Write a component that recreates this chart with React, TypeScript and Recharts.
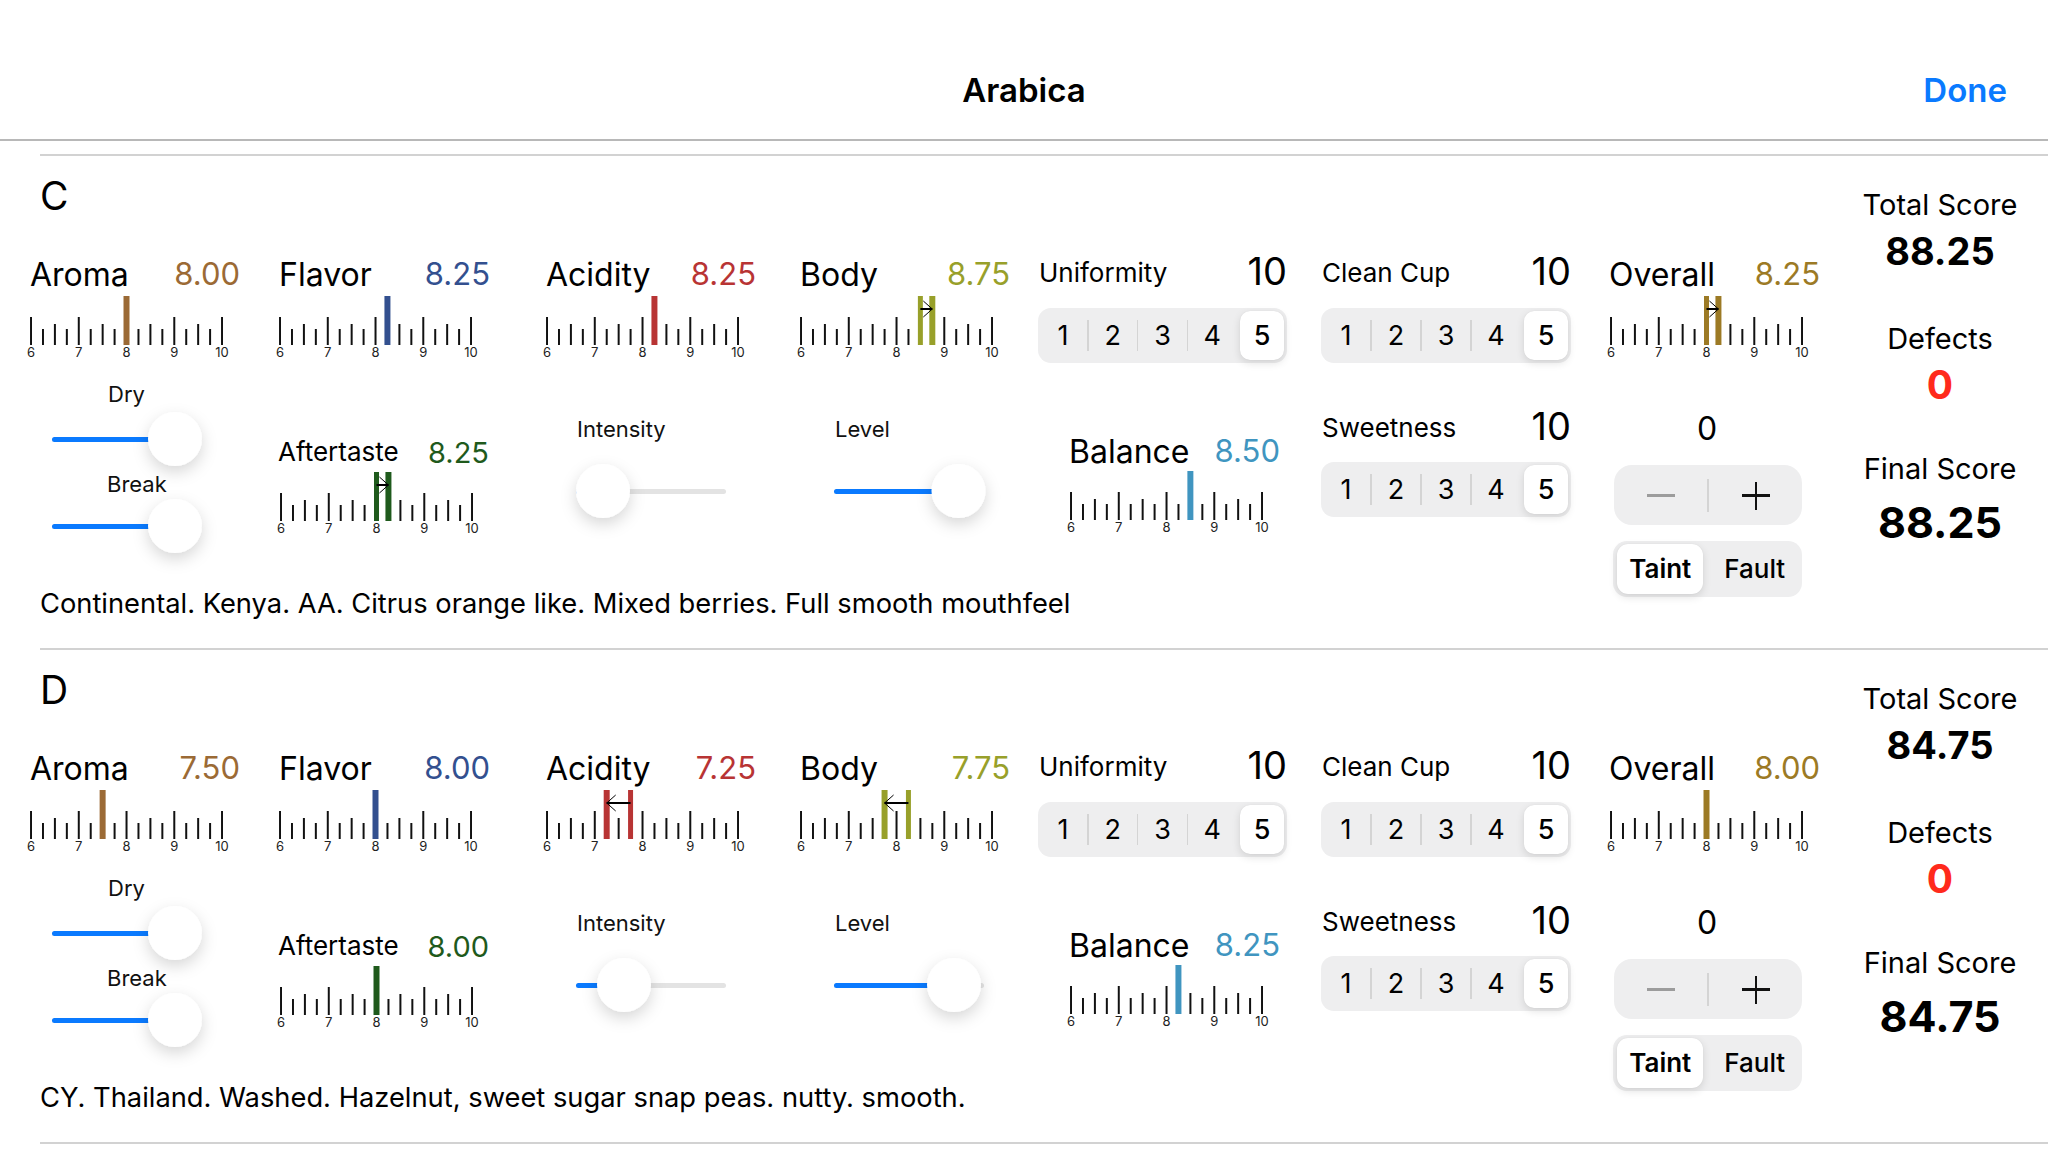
import React from "react";
import {
  ComposedChart,
  Bar,
  XAxis,
  YAxis,
  ReferenceLine,
  ReferenceDot,
} from "recharts";

// ---- data ----
const SAMPLES = ["C", "D"];

const AROMA = [8.0, 7.5];
const AROMA_PREV: (number | null)[] = [null, null];
const FLAVOR = [8.25, 8.0];
const FLAVOR_PREV: (number | null)[] = [null, null];
const ACIDITY = [8.25, 7.25];
const ACIDITY_PREV: (number | null)[] = [null, 7.75];
const BODY = [8.75, 7.75];
const BODY_PREV: (number | null)[] = [8.5, 8.25];
const AFTERTASTE = [8.25, 8.0];
const AFTERTASTE_PREV: (number | null)[] = [8.0, null];
const BALANCE = [8.5, 8.25];
const BALANCE_PREV: (number | null)[] = [null, null];
const OVERALL = [8.25, 8.0];
const OVERALL_PREV: (number | null)[] = [8.0, null];

const UNIFORMITY = [10, 10];
const UNIFORMITY_CUPS = [5, 5];
const CLEAN_CUP = [10, 10];
const CLEAN_CUP_CUPS = [5, 5];
const SWEETNESS = [10, 10];
const SWEETNESS_CUPS = [5, 5];
const CUP_LABELS = ["1", "2", "3", "4", "5"];

const DEFECT_CUPS = [0, 0];
const DEFECT_TYPES = ["Taint", "Fault"];
const DEFECT_TYPE_SELECTED = [0, 0];

// slider positions along the track (0 = left end, 1 = right end)
const DRY = [0.82, 0.82];
const BREAK = [0.82, 0.82];
const INTENSITY = [0.18, 0.32];
const LEVEL = [0.83, 0.8];

const TOTAL_SCORE = [88.25, 84.75];
const DEFECTS = [0, 0];
const FINAL_SCORE = [88.25, 84.75];

const NOTES = [
  "Continental. Kenya. AA. Citrus orange like. Mixed berries. Full smooth mouthfeel",
  "CY. Thailand. Washed. Hazelnut, sweet sugar snap peas. nutty. smooth.",
];

const RULER_TICKS = [
  6, 6.25, 6.5, 6.75, 7, 7.25, 7.5, 7.75, 8, 8.25, 8.5, 8.75, 9, 9.25, 9.5,
  9.75, 10,
];
const RULER_LABELS = [6, 7, 8, 9, 10];

// ---- styling ----
const W = 2048;
const H = 1156;
const FONT = "Inter, 'Noto Sans', 'DejaVu Sans', sans-serif";
const SECTION_GAP = 494;
const BLUE = "#0a7aff";
const RULER_W = 191;
const RULER_PAD = 14;
const MARK_H = 49;
const ARROW_Y = 36;

const tickHeight = (t: number) =>
  Number.isInteger(t) ? 28 : Number.isInteger(t * 2) ? 21 : 16;

const SCALES = [
  { name: "Aroma", values: AROMA, prev: AROMA_PREV, color: "#9b6a35", x: 30, labelY: 274, size: 32, valueRight: 240, valueSize: 31, rulerX: 31, baseline: 345 },
  { name: "Flavor", values: FLAVOR, prev: FLAVOR_PREV, color: "#33508f", x: 279, labelY: 274, size: 32, valueRight: 490, valueSize: 31, rulerX: 280, baseline: 345 },
  { name: "Acidity", values: ACIDITY, prev: ACIDITY_PREV, color: "#b83434", x: 546, labelY: 274, size: 32, valueRight: 756, valueSize: 31, rulerX: 547, baseline: 345 },
  { name: "Body", values: BODY, prev: BODY_PREV, color: "#98a02a", x: 800, labelY: 274, size: 32, valueRight: 1010, valueSize: 31, rulerX: 801, baseline: 345 },
  { name: "Overall", values: OVERALL, prev: OVERALL_PREV, color: "#9c7a25", x: 1609, labelY: 274, size: 32, valueRight: 1820, valueSize: 31, rulerX: 1611, baseline: 345 },
  { name: "Aftertaste", values: AFTERTASTE, prev: AFTERTASTE_PREV, color: "#1f5a1c", x: 278, labelY: 452, size: 26, valueRight: 489, valueSize: 29, rulerX: 281, baseline: 521 },
  { name: "Balance", values: BALANCE, prev: BALANCE_PREV, color: "#4095c0", x: 1069, labelY: 451, size: 32, valueRight: 1280, valueSize: 31, rulerX: 1071, baseline: 520 },
];

const CUP_SCALES = [
  { name: "Uniformity", values: UNIFORMITY, cups: UNIFORMITY_CUPS, x: 1039, right: 1287, labelY: 273, boxTop: 308 },
  { name: "Clean Cup", values: CLEAN_CUP, cups: CLEAN_CUP_CUPS, x: 1322, right: 1571, labelY: 273, boxTop: 308 },
  { name: "Sweetness", values: SWEETNESS, cups: SWEETNESS_CUPS, x: 1322, right: 1571, labelY: 428, boxTop: 462 },
];

const SLIDERS = [
  { name: "Dry", values: DRY, labelX: 108, labelY: 394, trackX: 52, trackY: 439 },
  { name: "Break", values: BREAK, labelX: 107, labelY: 484, trackX: 52, trackY: 526 },
  { name: "Intensity", values: INTENSITY, labelX: 577, labelY: 429, trackX: 576, trackY: 491 },
  { name: "Level", values: LEVEL, labelX: 835, labelY: 429, trackX: 834, trackY: 491 },
];

function Txt({
  x,
  y,
  size,
  weight = 400,
  color = "#000",
  align = "left",
  children,
}: {
  x: number;
  y: number;
  size: number;
  weight?: number;
  color?: string;
  align?: "left" | "right" | "center";
  children: React.ReactNode;
}) {
  const lh = Math.round(size * 1.22);
  const style: React.CSSProperties = {
    position: "absolute",
    top: y - lh / 2,
    fontSize: size,
    lineHeight: `${lh}px`,
    fontWeight: weight,
    color,
    whiteSpace: "nowrap",
    fontFamily: FONT,
  };
  if (align === "left") style.left = x;
  else if (align === "right") style.right = W - x;
  else {
    style.left = x - 300;
    style.width = 600;
    style.textAlign = "center";
  }
  return <div style={style}>{children}</div>;
}

function Ruler({
  id,
  left,
  baseline,
  value,
  prev,
  color,
}: {
  id: string;
  left: number;
  baseline: number;
  value: number;
  prev: number | null;
  color: string;
}) {
  const data = RULER_TICKS.map((t) => ({ x: t, h: tickHeight(t) }));
  return (
    <div style={{ position: "absolute", left: left - RULER_PAD, top: baseline - MARK_H }}>
      <ComposedChart
        width={RULER_W + RULER_PAD * 2}
        height={MARK_H + 20}
        data={data}
        margin={{ top: 0, right: RULER_PAD, bottom: 0, left: RULER_PAD }}
      >
        <defs>
          <marker
            id={`arrow-${id}`}
            markerWidth={11}
            markerHeight={18}
            refX={10}
            refY={9}
            orient="auto"
            markerUnits="userSpaceOnUse"
          >
            <path d="M1,1 L10,9 L1,17" fill="none" stroke="#000" strokeWidth={1} />
          </marker>
        </defs>
        <XAxis
          type="number"
          dataKey="x"
          domain={[6, 10]}
          ticks={RULER_LABELS}
          interval={0}
          axisLine={false}
          tickLine={false}
          tickSize={0}
          tickMargin={3}
          height={20}
          tick={{ fontSize: 13, fill: "#222", fontFamily: FONT }}
        />
        <YAxis hide domain={[0, MARK_H]} />
        <Bar dataKey="h" fill="#111" barSize={2} isAnimationActive={false} />
        {prev !== null && (
          <ReferenceLine x={prev} stroke={color} strokeWidth={5} />
        )}
        <ReferenceLine x={value} stroke={color} strokeWidth={6} />
        {prev !== null && (
          <ReferenceLine
            segment={[
              { x: prev, y: ARROW_Y },
              { x: value, y: ARROW_Y },
            ]}
            shape={(p: any) => (
              <line
                x1={p.x1}
                y1={p.y1}
                x2={p.x2}
                y2={p.y2}
                stroke="#000"
                strokeWidth={2}
                markerEnd={`url(#arrow-${id})`}
              />
            )}
          />
        )}
      </ComposedChart>
    </div>
  );
}

function Slider({ id, left, trackY, value }: { id: string; left: number; trackY: number; value: number }) {
  const TW = 150;
  const KP = 34;
  const CH = 120;
  const data = [{ name: "s", v: value }];
  return (
    <div style={{ position: "absolute", left: left - KP, top: trackY - CH / 2 }}>
      <ComposedChart
        layout="vertical"
        width={TW + KP * 2}
        height={CH}
        data={data}
        margin={{ top: 0, right: KP, bottom: 0, left: KP }}
      >
        <defs>
          <filter id={`knob-${id}`} x="-80%" y="-80%" width="260%" height="260%">
            <feDropShadow dx="0" dy="6" stdDeviation="8" floodColor="#000" floodOpacity="0.16" />
          </filter>
        </defs>
        <XAxis type="number" domain={[0, 1]} hide />
        <YAxis type="category" dataKey="name" hide />
        <Bar
          dataKey="v"
          fill={BLUE}
          barSize={5}
          radius={2.5}
          background={{ fill: "#e3e3e3", radius: 2.5 } as any}
          isAnimationActive={false}
        />
        <ReferenceDot
          x={value}
          y="s"
          r={27}
          shape={(p: any) => (
            <circle cx={p.cx} cy={p.cy} r={27} fill="#fff" filter={`url(#knob-${id})`} />
          )}
        />
      </ComposedChart>
    </div>
  );
}

function CupSegments({ left, top, width, selected }: { left: number; top: number; width: number; selected: number }) {
  const height = 55;
  const segW = width / CUP_LABELS.length;
  const sel = selected - 1;
  return (
    <div
      style={{
        position: "absolute",
        left,
        top,
        width,
        height,
        background: "#eeeeef",
        borderRadius: 13,
        fontFamily: FONT,
      }}
    >
      {CUP_LABELS.map((c, k) =>
        k > 0 && k !== sel && k - 1 !== sel ? (
          <div
            key={`d${k}`}
            style={{
              position: "absolute",
              left: k * segW - 0.75,
              top: 12,
              width: 1.5,
              height: height - 24,
              background: "#d4d4d4",
            }}
          />
        ) : null,
      )}
      <div
        style={{
          position: "absolute",
          left: sel * segW + 3,
          top: 3,
          width: segW - 6,
          height: height - 6,
          background: "#fff",
          borderRadius: 10,
          boxShadow: "0 3px 8px rgba(0,0,0,0.12), 0 0 1px rgba(0,0,0,0.1)",
        }}
      />
      {CUP_LABELS.map((c, k) => (
        <div
          key={c}
          style={{
            position: "absolute",
            left: k * segW,
            width: segW,
            top: 0,
            height,
            lineHeight: `${height}px`,
            textAlign: "center",
            fontSize: 27,
            fontWeight: k === sel ? 500 : 400,
            color: "#000",
          }}
        >
          {c}
        </div>
      ))}
    </div>
  );
}

function Section({ i }: { i: number }) {
  const dy = i * SECTION_GAP;
  const typeSel = DEFECT_TYPE_SELECTED[i];
  return (
    <>
      <Txt x={40} y={196 + dy} size={39}>
        {SAMPLES[i]}
      </Txt>

      {SCALES.map((s) => (
        <React.Fragment key={s.name}>
          <Txt x={s.x} y={s.labelY + dy} size={s.size}>
            {s.name}
          </Txt>
          <Txt x={s.valueRight} y={s.labelY + dy} size={s.valueSize} color={s.color} align="right">
            {s.values[i].toFixed(2)}
          </Txt>
          <Ruler
            id={`${s.name}-${i}`}
            left={s.rulerX}
            baseline={s.baseline + dy}
            value={s.values[i]}
            prev={s.prev[i]}
            color={s.color}
          />
        </React.Fragment>
      ))}

      {CUP_SCALES.map((c) => (
        <React.Fragment key={c.name}>
          <Txt x={c.x} y={c.labelY + dy} size={26}>
            {c.name}
          </Txt>
          <Txt x={c.right} y={c.labelY - 2 + dy} size={38} align="right">
            {c.values[i]}
          </Txt>
          <CupSegments left={c.x - 1} top={c.boxTop + dy} width={c.right - c.x + 1} selected={c.cups[i]} />
        </React.Fragment>
      ))}

      {SLIDERS.map((s) => (
        <React.Fragment key={s.name}>
          <Slider id={`${s.name}-${i}`} left={s.trackX} trackY={s.trackY + dy} value={s.values[i]} />
          <Txt x={s.labelX} y={s.labelY + dy} size={22} color="#111">
            {s.name}
          </Txt>
        </React.Fragment>
      ))}

      {/* defects stepper */}
      <Txt x={1707} y={428 + dy} size={32} align="center">
        {DEFECT_CUPS[i]}
      </Txt>
      <div
        style={{
          position: "absolute",
          left: 1614,
          top: 465 + dy,
          width: 188,
          height: 60,
          background: "#eeeeef",
          borderRadius: 18,
        }}
      >
        <div style={{ position: "absolute", left: 33, top: 29, width: 28, height: 2.5, background: "#9c9c9c" }} />
        <div style={{ position: "absolute", left: 93, top: 14, width: 1.5, height: 33, background: "#d4d4d4" }} />
        <div style={{ position: "absolute", left: 128, top: 29, width: 28, height: 2.5, background: "#111" }} />
        <div style={{ position: "absolute", left: 140.75, top: 16.5, width: 2.5, height: 28, background: "#111" }} />
      </div>
      <div
        style={{
          position: "absolute",
          left: 1613,
          top: 541 + dy,
          width: 189,
          height: 56,
          background: "#eeeeef",
          borderRadius: 14,
          fontFamily: FONT,
        }}
      >
        <div
          style={{
            position: "absolute",
            left: typeSel * 94.5 + 4,
            top: 3,
            width: 86,
            height: 50,
            background: "#fff",
            borderRadius: 11,
            boxShadow: "0 3px 8px rgba(0,0,0,0.12), 0 0 1px rgba(0,0,0,0.1)",
          }}
        />
        {DEFECT_TYPES.map((t, k) => (
          <div
            key={t}
            style={{
              position: "absolute",
              left: k * 94.5,
              width: 94.5,
              top: 0,
              height: 56,
              lineHeight: "56px",
              textAlign: "center",
              fontSize: 26,
              fontWeight: k === typeSel ? 600 : 500,
              color: "#000",
            }}
          >
            {t}
          </div>
        ))}
      </div>

      {/* scores */}
      <Txt x={1940} y={204 + dy} size={29} align="center">
        Total Score
      </Txt>
      <Txt x={1940} y={251 + dy} size={38} weight={700} align="center">
        {TOTAL_SCORE[i].toFixed(2)}
      </Txt>
      <Txt x={1940} y={338 + dy} size={29} align="center">
        Defects
      </Txt>
      <Txt x={1940} y={385 + dy} size={39} weight={700} color="#ff2a1c" align="center">
        {DEFECTS[i]}
      </Txt>
      <Txt x={1940} y={468 + dy} size={29} align="center">
        Final Score
      </Txt>
      <Txt x={1940} y={522 + dy} size={43} weight={700} align="center">
        {FINAL_SCORE[i].toFixed(2)}
      </Txt>

      <Txt x={40} y={603 + dy} size={27.3}>
        {NOTES[i]}
      </Txt>
      <div style={{ position: "absolute", left: 40, top: 154 + dy, width: W - 40, height: 1.5, background: "#d2d2d2" }} />
    </>
  );
}

export default function App() {
  return (
    <div
      style={{
        position: "relative",
        width: W,
        height: H,
        overflow: "hidden",
        background: "#fff",
        fontFamily: FONT,
      }}
    >
      <style>{`body { margin: 0; }`}</style>
      <Txt x={1024} y={90} size={33} weight={600} align="center">
        Arabica
      </Txt>
      <Txt x={2007} y={90} size={33} weight={600} color={BLUE} align="right">
        Done
      </Txt>
      <div style={{ position: "absolute", left: 0, top: 139, width: W, height: 1.5, background: "#b8b8b8" }} />
      {SAMPLES.map((s, i) => (
        <Section key={s} i={i} />
      ))}
      <div style={{ position: "absolute", left: 40, top: 1142, width: W - 40, height: 1.5, background: "#d2d2d2" }} />
    </div>
  );
}
